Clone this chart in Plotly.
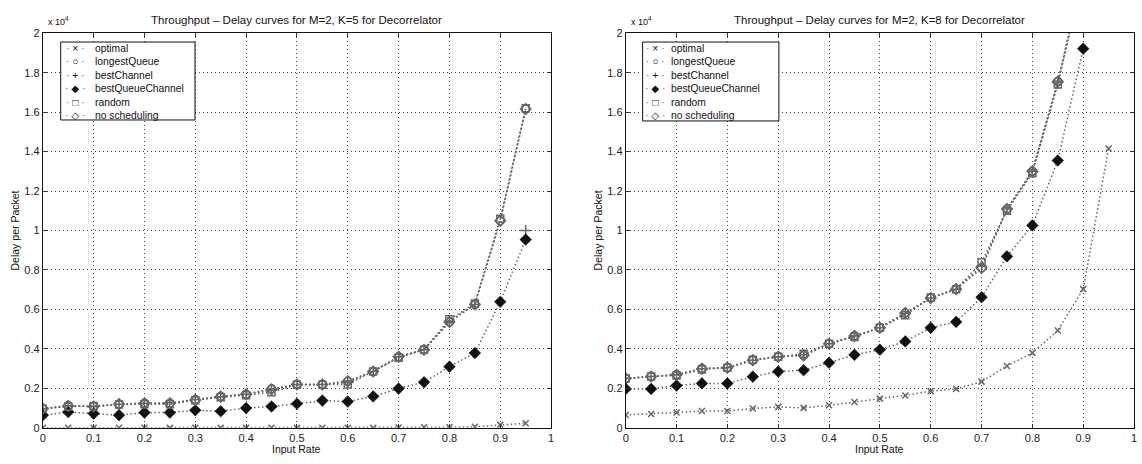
import plotly.graph_objects as go

# ---------------- data ----------------
input_rate = [0, 0.05, 0.1, 0.15, 0.2, 0.25, 0.3, 0.35, 0.4, 0.45,
              0.5, 0.55, 0.6, 0.65, 0.7, 0.75, 0.8, 0.85, 0.9, 0.95]
series_names = ["optimal", "longestQueue", "bestChannel", "bestQueueChannel", "random", "no scheduling"]

# K=5 (values in units of 1e4)
optimal_k5 = [0, 0, 0, 0, 0, 0, 0, 0, 0, 0, 0, 0, 0, 0, 0.002, 0.003, 0.003, 0.005, 0.015, 0.023]
longestQueue_k5 = [0.097, 0.113, 0.108, 0.12, 0.125, 0.125, 0.143, 0.159, 0.17, 0.198,
                   0.22, 0.22, 0.236, 0.286, 0.36, 0.396, 0.537, 0.625, 1.05, 1.616]
bestChannel_k5 = [0.097, 0.11, 0.108, 0.12, 0.123, 0.127, 0.143, 0.157, 0.17, 0.19,
                  0.22, 0.22, 0.23, 0.286, 0.36, 0.396, 0.54, 0.625, None, 1.0]
bestQueueChannel_k5 = [0.064, 0.08, 0.072, 0.064, 0.077, 0.077, 0.089, 0.084, 0.1, 0.108,
                       0.122, 0.138, 0.133, 0.159, 0.199, 0.231, 0.31, 0.379, 0.639, 0.954]
random_k5 = [0.097, 0.108, 0.11, 0.118, 0.12, 0.12, 0.14, 0.155, 0.165, 0.18,
             0.218, 0.218, 0.22, 0.286, 0.355, 0.396, 0.55, 0.63, 1.06, 1.62]
noScheduling_k5 = [0.097, 0.11, 0.108, 0.12, 0.125, 0.123, 0.14, 0.159, 0.17, 0.195,
                   0.22, 0.22, 0.236, 0.286, 0.36, 0.396, 0.537, 0.625, 1.05, 1.616]

# K=8
optimal_k8 = [0.065, 0.07, 0.078, 0.085, 0.085, 0.098, 0.106, 0.101, 0.114, 0.131,
              0.148, 0.164, 0.186, 0.197, 0.234, 0.313, 0.38, 0.493, 0.703, 1.416]
longestQueue_k8 = [0.25, 0.26, 0.269, 0.3, 0.305, 0.343, 0.36, 0.367, 0.426, 0.466,
                   0.507, 0.582, 0.658, 0.703, 0.81, 1.109, 1.3, 1.756, 2.3, None]
bestChannel_k8 = [0.25, 0.26, 0.27, 0.3, 0.305, 0.343, 0.36, 0.37, 0.426, 0.466,
                  0.507, 0.58, 0.658, 0.703, 0.82, 1.109, 1.3, 1.75, 2.3, None]
bestQueueChannel_k8 = [0.197, 0.197, 0.214, 0.225, 0.225, 0.259, 0.285, 0.292, 0.33, 0.37,
                       0.396, 0.438, 0.507, 0.537, 0.662, 0.869, 1.026, 1.355, 1.922, None]
random_k8 = [0.25, 0.26, 0.265, 0.295, 0.305, 0.345, 0.36, 0.375, 0.426, 0.46,
             0.507, 0.57, 0.66, 0.703, 0.839, 1.1, 1.29, 1.74, 2.3, None]
noScheduling_k8 = [0.25, 0.26, 0.269, 0.3, 0.305, 0.343, 0.36, 0.367, 0.426, 0.466,
                   0.507, 0.582, 0.658, 0.703, 0.81, 1.109, 1.3, 1.756, 2.3, None]

x_ticks = [0, 0.1, 0.2, 0.3, 0.4, 0.5, 0.6, 0.7, 0.8, 0.9, 1]
x_tick_text = ["0", "0.1", "0.2", "0.3", "0.4", "0.5", "0.6", "0.7", "0.8", "0.9", "1"]
y_ticks = [0, 0.2, 0.4, 0.6, 0.8, 1, 1.2, 1.4, 1.6, 1.8, 2]
y_tick_text = ["0", "0.2", "0.4", "0.6", "0.8", "1", "1.2", "1.4", "1.6", "1.8", "2"]

titles = ["Throughput \u2013 Delay curves for M=2, K=5 for Decorrelator",
          "Throughput \u2013 Delay curves for M=2, K=8 for Decorrelator"]
legend_glyphs = ["\u00d7", "\u25cb", "+", "\u25c6", "\u25a1", "\u25c7"]

# ---------------- styles ----------------
FONT = "Liberation Sans, Arial, Helvetica, DejaVu Sans, sans-serif"
marker_styles = {
    "optimal": dict(symbol="x-thin-open", size=6, line=dict(width=1.5, color="#222")),
    "longestQueue": dict(symbol="circle-open", size=8, line=dict(width=1.5, color="#222")),
    "bestChannel": dict(symbol="cross-thin-open", size=8, line=dict(width=1.5, color="#222")),
    "bestQueueChannel": dict(symbol="diamond", size=9, color="#111", line=dict(width=0.5, color="#111")),
    "random": dict(symbol="square-open", size=7, line=dict(width=1.5, color="#333")),
    "no scheduling": dict(symbol="diamond-open", size=8, line=dict(width=1.5, color="#222")),
}
line_style = dict(color="#666", width=1.5, dash="1.5px,2.5px")

fig = go.Figure()

panels = [
    dict(xa="x", ya="y",
         data=[optimal_k5, longestQueue_k5, bestChannel_k5, bestQueueChannel_k5, random_k5, noScheduling_k5]),
    dict(xa="x2", ya="y2",
         data=[optimal_k8, longestQueue_k8, bestChannel_k8, bestQueueChannel_k8, random_k8, noScheduling_k8]),
]

for p in panels:
    for name, vals in zip(series_names, p["data"]):
        fig.add_trace(go.Scatter(
            x=input_rate, y=vals, name=name, mode="lines+markers",
            line=line_style, marker=marker_styles[name],
            xaxis=p["xa"], yaxis=p["ya"], showlegend=False,
        ))

W, H = 1142, 464
left_dom = [40 / W, 551 / W]
right_dom = [626 / W, 1137 / W]
y_dom = [1 - 433 / H, 1 - 28 / H]

def px(v):
    return v / W

def py(v):
    return 1 - v / H

axis_common = dict(
    showline=True, linecolor="#111", linewidth=1, mirror="ticks",
    ticks="inside", ticklen=4, tickcolor="#333",
    showgrid=True, gridcolor="#444", gridwidth=1, griddash="1px,3px",
    zeroline=False, tickfont=dict(family=FONT, size=11, color="#222"),
)

fig.update_layout(
    width=W, height=H,
    margin=dict(l=0, r=0, t=0, b=0),
    paper_bgcolor="white", plot_bgcolor="white",
    font=dict(family=FONT, size=10, color="#111"),
    xaxis=dict(domain=left_dom, range=[0, 1], tickvals=x_ticks, ticktext=x_tick_text,
               anchor="y", **axis_common),
    yaxis=dict(domain=y_dom, range=[0, 2], tickvals=y_ticks, ticktext=y_tick_text,
               anchor="x", **axis_common),
    xaxis2=dict(domain=right_dom, range=[0, 1], tickvals=x_ticks, ticktext=x_tick_text,
                anchor="y2", **axis_common),
    yaxis2=dict(domain=y_dom, range=[0, 2], tickvals=y_ticks, ticktext=y_tick_text,
                anchor="x2", **axis_common),
    showlegend=False,
)

glyph_text = "<br>".join(
    f"<span style='color:#666'>\u00b7</span> {g} <span style='color:#666'>\u00b7</span>" for g in legend_glyphs
)
names_text = "<br>".join(series_names)
LEG_FONT = 10.3

# legend boxes: (left, top, right, bottom, glyph centre, names left) in pixels
legend_boxes = [(58, 37, 193, 117, 73, 90), (643, 37, 780, 118, 656, 670)]

ann = []
shapes = []
for dom, title, box in zip([left_dom, right_dom], titles, legend_boxes):
    cx = (dom[0] + dom[1]) / 2
    ann.append(dict(text=title, x=cx, y=py(14), xref="paper", yref="paper",
                    xanchor="center", yanchor="middle",
                    showarrow=False, font=dict(family=FONT, size=11.5, color="#111")))
    ann.append(dict(text="Input Rate", x=cx, y=py(455), xref="paper", yref="paper",
                    xanchor="center", yanchor="middle",
                    showarrow=False, font=dict(family=FONT, size=10.5, color="#111")))
    ann.append(dict(text="Delay per Packet", x=dom[0] - 28 / W, y=(y_dom[0] + y_dom[1]) / 2,
                    xref="paper", yref="paper", textangle=-90, showarrow=False,
                    xanchor="center", yanchor="middle",
                    font=dict(family=FONT, size=10.5, color="#111")))
    ann.append(dict(text="x 10<sup>4</sup>", x=dom[0] + 3 / W, y=py(15), xref="paper", yref="paper",
                    xanchor="left", yanchor="middle", showarrow=False,
                    font=dict(family=FONT, size=9, color="#111")))
    l, t, r, b, gc, nl = box
    shapes.append(dict(type="rect", xref="paper", yref="paper",
                       x0=px(l), x1=px(r), y0=py(b), y1=py(t),
                       line=dict(color="#111", width=1), fillcolor="white", layer="above"))
    mid = py((t + b) / 2 + 1)
    ann.append(dict(text=glyph_text, x=px(gc), y=mid, xref="paper", yref="paper",
                    xanchor="center", yanchor="middle", align="center", showarrow=False,
                    font=dict(family=FONT, size=LEG_FONT, color="#111")))
    ann.append(dict(text=names_text, x=px(nl), y=mid, xref="paper", yref="paper",
                    xanchor="left", yanchor="middle", align="left", showarrow=False,
                    font=dict(family=FONT, size=LEG_FONT, color="#111")))
fig.update_layout(annotations=ann, shapes=shapes)

fig.write_html("out.html", config={"displayModeBar": False},
               post_script="document.body.style.margin='0';")
